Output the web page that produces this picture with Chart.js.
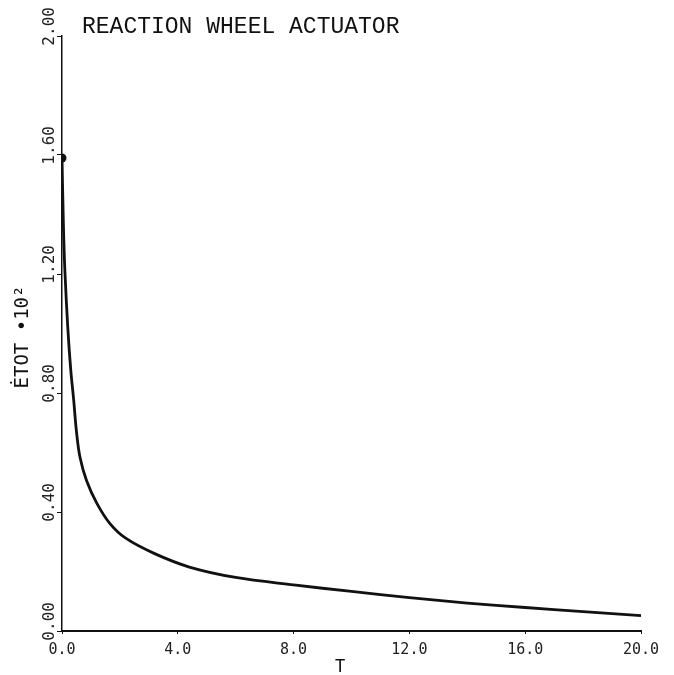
<!DOCTYPE html>
<html>
<head>
<meta charset="utf-8">
<script src="https://cdn.jsdelivr.net/npm/chart.js@4/dist/chart.umd.min.js"></script>
<style>
  html, body { margin: 0; padding: 0; background: #fff; }
  #wrap { width: 674px; height: 675px; }
</style>
</head>
<body>
<div id="wrap"><canvas id="chart" width="674" height="675"></canvas></div>
<script>
// time T and total energy rate (x10^2)
const tValues = [0, 0.05, 0.1, 0.2, 0.3, 0.4, 0.5, 0.62, 0.85, 1.2, 1.65, 2.2, 3.2, 4.4, 6.0, 8.0, 10.0, 12.0, 14.0, 16.0, 18.0, 20.0];
const eValues = [1.59, 1.36, 1.21, 1.02, 0.88, 0.78, 0.67, 0.585, 0.505, 0.43, 0.362, 0.312, 0.26, 0.215, 0.18, 0.155, 0.133, 0.112, 0.094, 0.079, 0.065, 0.052];
const xTicks = [0, 4, 8, 12, 16, 20];
const yTicks = [0, 0.4, 0.8, 1.2, 1.6, 2.0];

const chartTitle = 'REACTION WHEEL ACTUATOR';
const xTitle = 'T';
const yTitle = 'ĖTOT •10²';

const points = tValues.map((t, i) => ({ x: t, y: eValues[i] }));

// title and axis names, placed like the plotter output
const textPlugin = {
    id: 'plotText',
    afterDraw(chart) {
        const ctx = chart.ctx;
        ctx.save();
        ctx.fillStyle = '#111';
        ctx.font = '23px "Liberation Mono", "DejaVu Sans Mono", monospace';
        ctx.textBaseline = 'alphabetic';
        ctx.textAlign = 'left';
        ctx.fillText(chartTitle, 82, 33);

        ctx.font = '17px "DejaVu Sans Mono", monospace';
        ctx.textAlign = 'center';
        ctx.fillText(xTitle, 340, 672);

        ctx.translate(23, 337);
        ctx.rotate(-Math.PI / 2);
        ctx.textBaseline = 'middle';
        ctx.font = '19px "DejaVu Sans Mono", monospace';
        ctx.fillText(yTitle, 0, 0);
        ctx.restore();
    }
};

new Chart(document.getElementById('chart'), {
    type: 'line',
    data: {
        datasets: [{
            data: points,
            borderColor: '#111',
            backgroundColor: '#111',
            borderWidth: 2.8,
            tension: 0.35,
            pointStyle: 'circle',
            pointRadius: ctx => ctx.dataIndex === 0 ? 4.5 : 0,
            pointBorderWidth: 0
        }]
    },
    options: {
        responsive: false,
        animation: false,
        layout: { padding: { top: 36, right: 33, left: 0, bottom: 0 } },
        plugins: {
            legend: { display: false },
            tooltip: { enabled: false }
        },
        scales: {
            x: {
                type: 'linear',
                min: 0,
                max: 20,
                afterBuildTicks: axis => { axis.ticks = xTicks.map(v => ({ value: v })); },
                afterFit: axis => { axis.height = 44; },
                border: { color: '#111', width: 2 },
                grid: { drawOnChartArea: false, color: '#111', tickLength: 3 },
                ticks: {
                    color: '#222',
                    padding: 7,
                    maxRotation: 0,
                    font: { family: '"DejaVu Sans Mono", monospace', size: 15 },
                    callback: v => v.toFixed(1)
                }
            },
            y: {
                min: 0,
                max: 2,
                afterBuildTicks: axis => { axis.ticks = yTicks.map(v => ({ value: v })); },
                afterFit: axis => { axis.width = 62; },
                border: { color: '#111', width: 1.5 },
                grid: { drawOnChartArea: false, color: '#111', tickLength: 5 },
                ticks: {
                    color: '#222',
                    padding: -22,
                    minRotation: 90,
                    maxRotation: 90,
                    crossAlign: 'center',
                    font: { family: '"DejaVu Sans Mono", monospace', size: 16 },
                    // leading blanks lift the label so the decimal point sits at the tick
                    callback: v => '  ' + v.toFixed(2)
                }
            }
        }
    },
    plugins: [textPlugin]
});
</script>
</body>
</html>
